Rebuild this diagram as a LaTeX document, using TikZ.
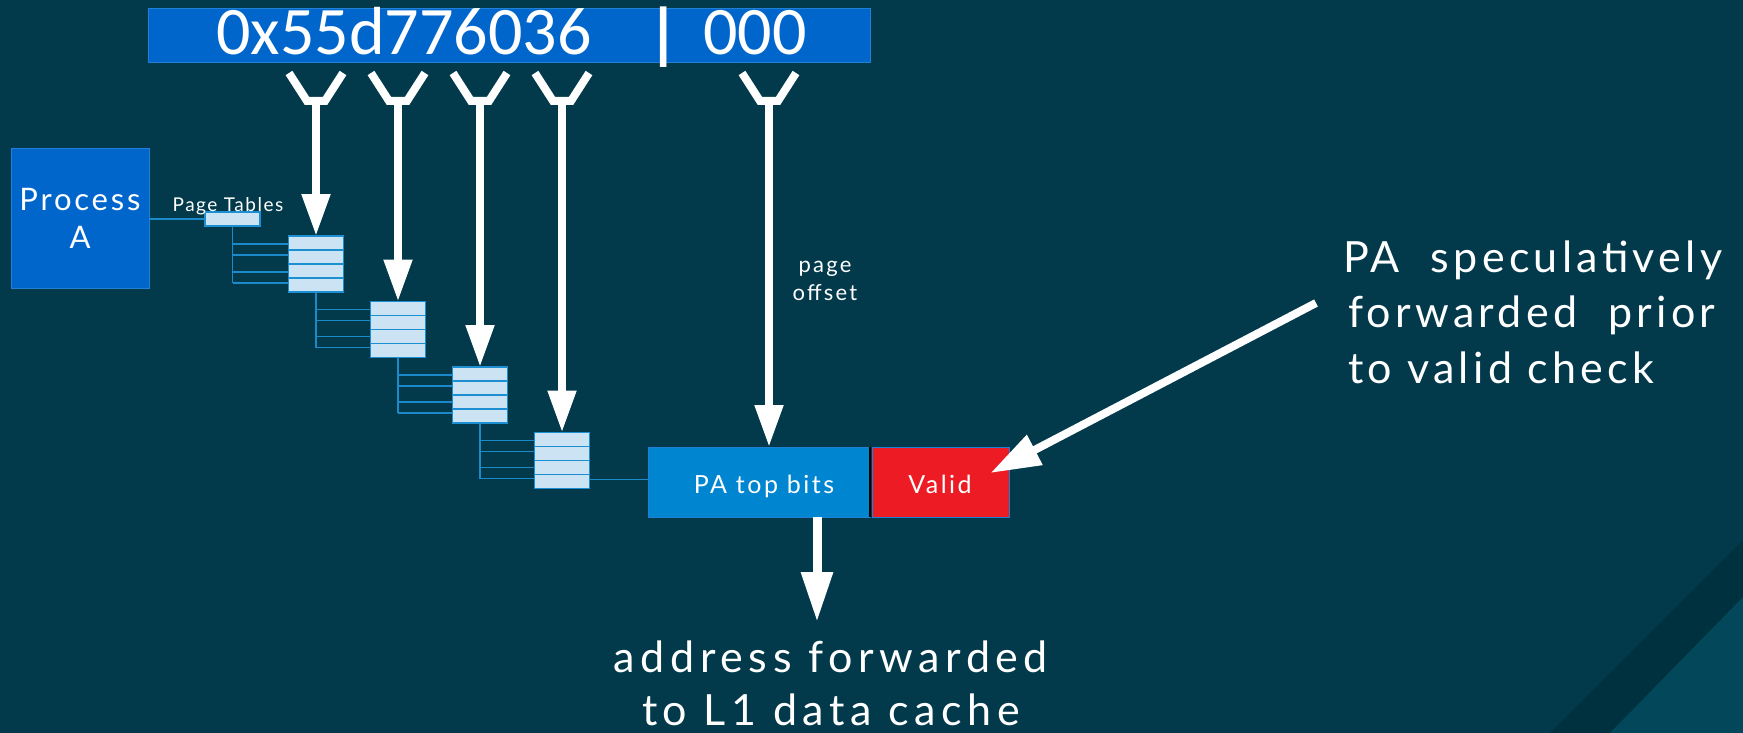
\documentclass[tikz,border=0pt]{standalone}
\usepackage{fontspec}
\setmainfont{Lato}[LetterSpace=10]
\newfontfamily\numfont{Carlito}
\usetikzlibrary{arrows.meta,calc}

\definecolor{bgc}{HTML}{023A4B}
\definecolor{bandc}{HTML}{00313F}
\definecolor{cornerc}{HTML}{03475A}
\definecolor{barblue}{HTML}{0066CC}
\definecolor{barrim}{HTML}{1F80D6}
\definecolor{pablue}{HTML}{0086D1}
\definecolor{validred}{HTML}{ED1C24}
\definecolor{tabfill}{HTML}{CCE3F3}
\definecolor{tabrim}{HTML}{1B8FD2}
\definecolor{linkc}{HTML}{1A8ACB}

\tikzset{
  bluebox/.style={draw=barrim, fill=barblue, line width=1pt, inner sep=0pt, outer sep=0pt},
  tablebox/.style={draw=tabrim, fill=tabfill, line width=1.5pt, minimum width=55pt,
    minimum height=56pt, inner sep=0pt, outer sep=0pt,
    path picture={\foreach \k in {1,2,3}{
      \draw[tabrim, line width=1.5pt]
        ($(path picture bounding box.north west)!\k/4!(path picture bounding box.south west)$) --
        ($(path picture bounding box.north east)!\k/4!(path picture bounding box.south east)$);}}},
  link/.style={draw=linkc, line width=1.5pt},
  fork/.style={draw=white, line width=8pt},
  bigarrow/.style={draw=white, line width=8pt, -{Triangle[width=27pt,length=42pt]}},
  downarrow/.style={draw=white, line width=9pt, -{Triangle[width=30pt,length=50pt]}},
  diagarrow/.style={draw=white, line width=8pt, -{Triangle[width=32pt,length=50pt]}},
  wtext/.style={text=white, inner sep=0pt, outer sep=0pt},
  bigtext/.style={wtext, font=\fontsize{43}{55}\selectfont, anchor=base west},
}

\begin{document}
\begin{tikzpicture}[x=1pt, y=-1pt]
  \useasboundingbox (0,0) rectangle (1743,733);
  % background with the diagonal bands in the lower right corner
  \fill[bgc] (0,0) rectangle (1743,733);
  \fill[bandc] (1743,540) -- (1743,597) -- (1610,733) -- (1550,733) -- cycle;
  \fill[cornerc] (1743,597) -- (1743,733) -- (1610,733) -- cycle;

  % virtual address bar
  \node[bluebox, minimum width=722pt, minimum height=54pt] (va) at (509,36) {};
  \node[wtext, anchor=base, font=\numfont\fontsize{68}{68}\selectfont] (vpn) at (404,55) {0x55d776036};
  \node[wtext, anchor=base, font=\numfont\bfseries\fontsize{68}{68}\selectfont] (sep) at (664,57) {|};
  \node[wtext, anchor=base, font=\numfont\fontsize{68}{68}\selectfont] (off) at (755,55) {000};

  % process and page tables
  \node[bluebox, minimum width=138pt, minimum height=139pt, align=center,
        text=white, font=\addfontfeature{LetterSpace=9}\fontsize{31}{38}\selectfont] (proc) at (80,218.5) {Process\\A};
  \node[draw=tabrim, fill=tabfill, line width=1.5pt, minimum width=55pt, minimum height=14pt,
        inner sep=0pt, outer sep=0pt] (pt) at (232.5,219) {};
  \node[wtext, anchor=base, font=\addfontfeature{LetterSpace=8}\fontsize{19}{19}\selectfont] (ptlabel) at (228,211) {Page Tables};

  \node[tablebox] (t1) at (316,264) {};
  \node[tablebox] (t2) at (398,329.5) {};
  \node[tablebox] (t3) at (480,395) {};
  \node[tablebox] (t4) at (562,460.5) {};

  % physical address
  \node[draw=barrim, fill=pablue, line width=1pt, minimum width=222pt, minimum height=70pt,
        inner sep=0pt, outer sep=0pt] (pa) at (759,482) {};
  \node[wtext, anchor=base, font=\fontsize{25}{25}\selectfont] (patext) at (764,493) {PA top bits};
  \node[draw=barrim, fill=validred, line width=1pt, minimum width=137pt, minimum height=70pt,
        inner sep=0pt, outer sep=0pt] (valid) at (940.5,482) {};
  \node[wtext, anchor=base, font=\fontsize{25}{25}\selectfont] (validtext) at (940,493) {Valid};
  \draw[black, line width=2pt] (pa.north east) -- (pa.south east);

  % page table walk links
  \draw[link] (proc.east |- pt.west) -- (pt.west);
  \draw[link] (pt.south) -- ($(pt.south |- t1.north)+(0,47)$);
  \foreach \o in {8,19,36,47}
    \draw[link] ($(pt.south |- t1.north)+(0,\o)$) -- ($(t1.north west)+(0,\o)$);
  \draw[link] (t1.south) -- ($(t1.south |- t2.north)+(0,46)$);
  \foreach \o in {8,19,35,46}
    \draw[link] ($(t1.south |- t2.north)+(0,\o)$) -- ($(t2.north west)+(0,\o)$);
  \draw[link] (t2.south) -- ($(t2.south |- t3.north)+(0,46)$);
  \foreach \o in {8,19,35,46}
    \draw[link] ($(t2.south |- t3.north)+(0,\o)$) -- ($(t3.north west)+(0,\o)$);
  \draw[link] (t3.south) -- ($(t3.south |- t4.north)+(0,46)$);
  \foreach \o in {8,19,35,46}
    \draw[link] ($(t3.south |- t4.north)+(0,\o)$) -- ($(t4.north west)+(0,\o)$);
  \coordinate (t4r) at ($(t4.north east)+(0,47)$);
  \draw[link] (t4r) -- (t4r -| pa.west);

  % bit field splitters
  \foreach \n/\x in {1/316,2/398,3/480,4/562,5/769} {
    \coordinate (f\n) at (\x,101);
    \draw[fork] ($(f\n)+(-27,-28)$) -- ($(f\n)+(-9,0)$) -- ($(f\n)+(9,0)$) -- ($(f\n)+(27,-28)$);
  }
  \draw[bigarrow] (f1) -- (t1.north);
  \draw[bigarrow] (f2) -- (t2.north);
  \draw[bigarrow] (f3) -- (t3.north);
  \draw[bigarrow] (f4) -- (t4.north);
  \draw[bigarrow] (f5) -- (f5 |- pa.north);

  \node[wtext, anchor=base, font=\fontsize{22}{22}\selectfont] (pg1) at (825,272) {page};
  \node[wtext, anchor=base, font=\fontsize{22}{22}\selectfont] (pg2) at (825,300) {offset};

  % forwarding to the cache
  \coordinate (dtip) at (817,622);
  \draw[downarrow] (dtip |- pa.south) -- (dtip);
  \node[bigtext, anchor=base, font=\addfontfeature{LetterSpace=13}\fontsize{43}{55}\selectfont] (addr1) at (831,672) {address forwarded};
  \node[bigtext, anchor=base, font=\addfontfeature{LetterSpace=13}\fontsize{43}{55}\selectfont] (addr2) at (831,725) {to L1 data cache};

  % speculative forwarding note
  \node[bigtext] (note1) at (1343,272) {PA\ \ speculatively};
  \node[bigtext] (note2) at (1348,327) {forwarded\ \ prior};
  \node[bigtext] (note3) at (1348,383) {to valid check};
  \coordinate (tail) at (1316,303);
  \draw[diagarrow] (tail) -- ($(valid.center)+(50,-9)$);
\end{tikzpicture}
\end{document}
